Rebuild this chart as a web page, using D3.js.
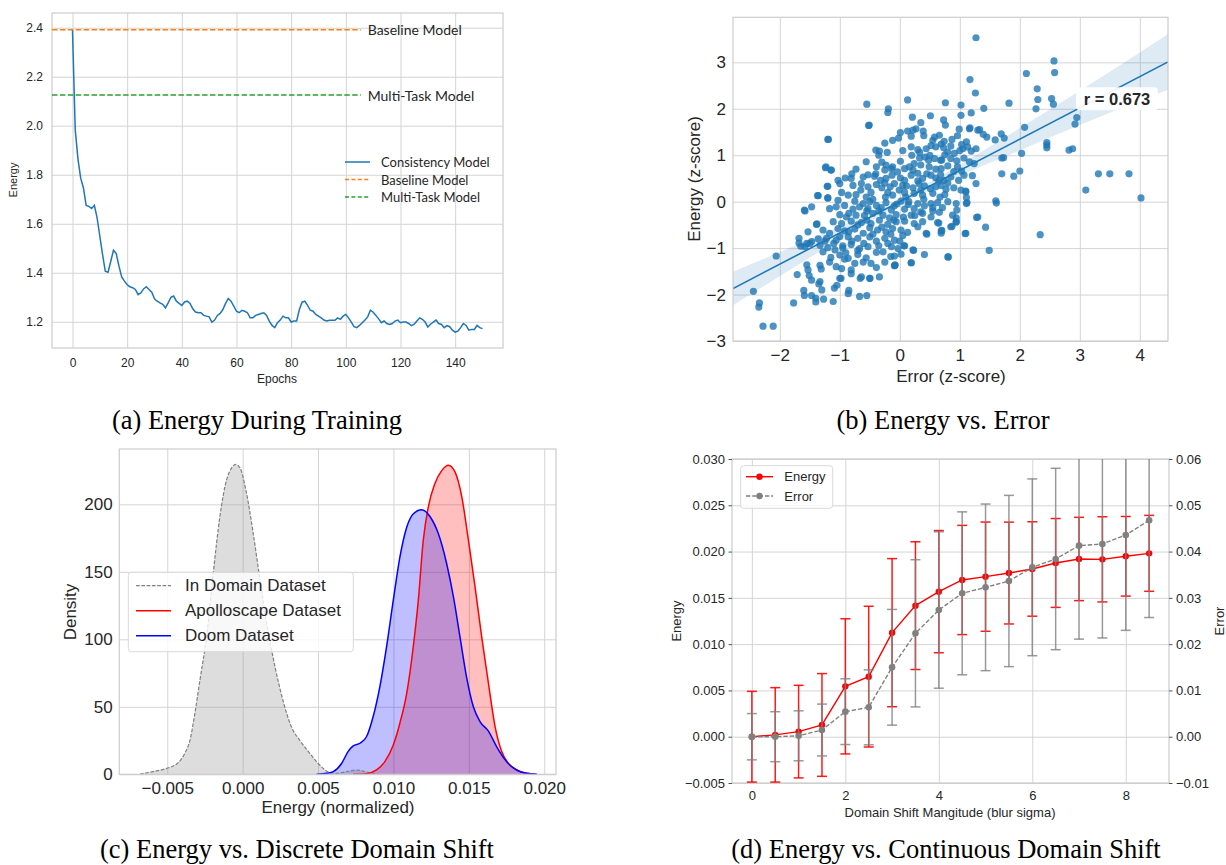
<!DOCTYPE html>
<html>
<head>
<meta charset="utf-8">
<script src="https://cdn.jsdelivr.net/npm/d3@7"></script>
<style>
  body { margin: 0; background: #fff; }
  svg { display: block; }
</style>
</head>
<body>
<script>
// ---------- (a) energy during training ----------
var consistencyEnergy = [2.39,1.983,1.864,1.786,1.746,1.675,1.671,1.662,1.675,1.624,1.549,1.474,1.406,1.402,1.447,1.492,1.478,1.427,1.383,1.366,
  1.351,1.343,1.339,1.332,1.311,1.318,1.334,1.343,1.332,1.321,1.294,1.284,1.277,1.271,1.257,1.277,1.300,1.305,1.284,1.275,
  1.267,1.281,1.284,1.275,1.253,1.240,1.237,1.237,1.226,1.223,1.220,1.199,1.207,1.226,1.234,1.250,1.275,1.295,1.284,1.264,
  1.243,1.237,1.247,1.243,1.237,1.216,1.216,1.226,1.230,1.234,1.237,1.226,1.203,1.185,1.176,1.196,1.207,1.223,1.216,1.216,
  1.199,1.203,1.203,1.250,1.280,1.284,1.267,1.247,1.243,1.230,1.223,1.216,1.207,1.203,1.206,1.206,1.206,1.216,1.210,1.223,
  1.230,1.216,1.199,1.180,1.176,1.185,1.196,1.207,1.220,1.247,1.239,1.226,1.212,1.196,1.203,1.193,1.189,1.193,1.203,1.207,
  1.196,1.199,1.199,1.193,1.184,1.190,1.203,1.216,1.210,1.199,1.179,1.190,1.199,1.207,1.193,1.189,1.176,1.184,1.180,1.166,
  1.158,1.162,1.176,1.193,1.185,1.166,1.169,1.169,1.185,1.176,1.172];
var refModels = ['Baseline Model', 'Multi-Task Model'];
var refEnergy = [2.392, 2.125];
var refColors = ['#ff7f0e', '#2ca02c'];
var epochTicks = [0, 20, 40, 60, 80, 100, 120, 140];
var energyTicksA = [1.2, 1.4, 1.6, 1.8, 2.0, 2.2, 2.4];

// ---------- (b) energy vs error (z-scores) ----------
var scatterPoints = [
  [1.27,3.53],[2.57,3.03],[2.58,2.78],[2.11,2.76],[1.17,2.63],[1.26,2.34],[2.29,2.43],[2.30,2.20],[2.27,2.00],[2.53,2.22],
  [2.56,2.10],[2.95,1.81],[2.92,1.67],[2.82,1.11],[2.88,1.14],[2.45,1.27],[2.45,1.22],[2.45,1.16],[3.31,0.60],[3.50,0.60],
  [3.82,0.60],[3.10,0.25],[4.02,0.08],[2.34,-0.71],[2.08,1.60],[2.03,1.04],[2.00,0.66],[1.90,0.55],[1.82,2.12],[1.40,2.01],
  [1.02,2.08],[0.76,2.13],[0.13,2.19],[-0.55,2.10],[-0.19,2.00],[-0.20,1.92],[-0.51,1.65],[-1.19,1.34],[-1.23,0.75],[-1.15,0.68],
  [-1.20,0.33],[-1.37,0.13],[-1.20,0.08],[-1.59,-0.18],[-1.38,-0.48],[-1.68,-0.79],[-1.68,-0.89],[-1.65,-0.96],[-1.55,-0.90],[-2.06,-1.17],
  [-1.71,-1.57],[-1.55,-1.36],[-1.51,-1.59],[-1.60,-1.91],[-1.59,-2.02],[-1.47,-2.02],[-1.40,-2.08],[-1.40,-2.16],[-1.27,-2.10],[-1.35,-1.77],
  [-1.30,-1.90],[-1.11,-2.15],[-1.09,-1.86],[-1.05,-1.80],[-0.98,-1.65],[-0.85,-1.91],[-0.86,-1.98],[-0.67,-2.04],[-0.55,-2.02],[-0.50,-1.65],
  [-0.66,-1.65],[-2.44,-1.93],[-2.34,-2.18],[-2.35,-2.27],[-2.28,-2.68],[-2.11,-2.68],[-1.77,-2.18],[-0.08,-1.37],[0.19,-1.32],[0.41,-1.14],
  [0.81,-1.19],[1.09,-0.69],[1.49,-1.05],[1.43,-0.55],[1.30,-0.33],[1.60,0.02],[1.61,-0.03],[1.70,0.60],[1.70,0.94],[1.73,0.95],
  [1.69,1.46],[1.74,1.37],[1.59,1.33],[1.45,1.39],[1.39,1.45],[1.33,1.55],[1.17,1.59],[1.19,1.91],[0.94,-0.35],[0.94,-0.44],
  [1.10,0.23],[1.11,0.09],[1.11,-0.04],[0.87,-0.53],[0.69,-0.68],[0.70,-0.62],[0.65,-0.46],[0.45,-0.70],[0.23,-1.05],[0.07,-0.95],
  [0.02,-1.13],[-0.15,-1.18],[-0.08,-1.36],
  [-0.52,1.64],[0.21,1.82],[0.35,1.70],[0.51,1.85],[0.73,1.76],[0.76,1.65],[1.02,1.86],[0.01,1.49],[0.13,1.52],[0.22,1.54],
  [0.19,1.41],[0.27,1.57],[0.39,1.52],[0.40,1.42],[-1.20,1.34],[-0.25,1.26],[-0.12,1.32],[-0.02,1.37],[0.58,1.39],[0.55,1.32],
  [0.66,1.43],[0.74,1.30],[0.87,1.34],[0.96,1.42],[0.99,1.56],[1.16,1.57],[1.30,1.54],[1.11,1.29],[1.03,1.23],[-0.40,1.11],
  [-0.34,1.09],[-0.21,1.06],[0.19,1.18],[0.30,1.12],[0.33,1.06],[0.44,1.14],[0.52,1.21],[0.60,1.18],[0.69,1.24],[0.73,1.16],
  [0.80,1.07],[0.91,1.04],[1.05,1.14],[1.13,1.18],[1.19,1.09],[1.27,1.14],[-0.35,1.00],[-0.56,0.86],[-0.23,0.79],[-0.14,0.71],
  [0.01,0.87],[0.08,0.71],[0.24,0.82],[0.33,0.94],[0.42,0.96],[0.48,0.89],[0.58,0.93],[0.68,0.89],[0.75,1.01],[0.85,0.93],
  [0.95,0.88],[1.07,0.94],[1.16,0.86],[1.24,0.82],[-1.24,0.73],[-1.14,0.68],[-0.73,0.70],[-0.39,0.75],[-0.25,0.68],[-0.12,0.75],
  [0.16,0.75],[0.22,0.68],[0.35,0.79],[0.49,0.75],[0.69,0.71],[0.80,0.77],[0.96,0.75],[1.03,0.66],[-0.91,0.51],[-0.81,0.50],
  [-0.61,0.53],[-0.53,0.58],[-0.42,0.55],[-0.32,0.46],[-0.23,0.50],[-0.13,0.57],[-0.04,0.64],[0.01,0.51],[0.08,0.46],[0.19,0.57],
  [0.30,0.61],[0.38,0.50],[0.52,0.57],[0.60,0.51],[0.68,0.58],[0.74,0.46],[0.85,0.53],[0.98,0.46],[1.07,0.57],[1.21,0.56],
  [1.27,0.39],[-1.00,0.39],[-1.03,0.46],[-1.21,0.33],[-0.78,0.35],[-0.64,0.39],[-0.53,0.32],[-0.39,0.37],[-0.30,0.30],[-0.16,0.32],
  [-0.09,0.39],[-0.01,0.25],[0.11,0.34],[0.22,0.30],[0.32,0.39],[0.41,0.34],[0.51,0.28],[0.60,0.32],[0.69,0.35],[0.77,0.27],
  [0.90,0.30],[1.02,0.25],[-1.36,0.13],[-1.20,0.08],[-0.97,0.20],[-0.86,0.14],[-0.73,0.15],[-0.56,0.10],[-0.48,0.20],[-0.24,0.10],
  [-0.12,0.14],[0.08,0.20],[0.24,0.18],[0.38,0.14],[0.55,0.18],[0.67,0.10],[1.10,0.21],[-1.03,0.03],[-0.75,0.01],[-0.61,-0.04],
  [-0.50,0.00],[-0.39,-0.08],[-0.23,-0.02],[-0.09,-0.09],[0.02,0.01],[0.14,-0.06],[0.30,-0.04],[0.41,-0.09],[0.52,-0.04],[0.63,-0.02],
  [0.80,0.00],[0.94,-0.04],[1.12,-0.02],[-1.47,-0.11],[-1.17,-0.15],[-1.06,-0.11],[-0.92,-0.08],[-0.78,-0.16],[-0.67,-0.11],[-0.53,-0.15],
  [-0.31,-0.13],[-0.14,-0.18],[0.08,-0.16],[0.24,-0.15],[0.35,-0.22],[0.55,-0.13],[0.71,-0.13],[0.95,-0.18],[-1.58,-0.20],[-1.00,-0.28],
  [-0.89,-0.33],[-0.73,-0.29],[-0.59,-0.30],[-0.45,-0.25],[-0.28,-0.29],[-0.17,-0.35],[-0.06,-0.28],[0.06,-0.33],[0.19,-0.29],[0.38,-0.25],
  [0.52,-0.33],[0.66,-0.23],[0.88,-0.29],[1.28,-0.34],[-1.39,-0.49],[-1.11,-0.43],[-0.97,-0.47],[-0.81,-0.42],[-0.64,-0.45],[-0.48,-0.47],
  [-0.34,-0.40],[-0.20,-0.49],[-0.06,-0.43],[0.08,-0.42],[0.24,-0.47],[0.38,-0.43],[0.63,-0.45],[0.94,-0.43],[-1.53,-0.65],[-1.28,-0.61],
  [-1.17,-0.68],[-1.03,-0.58],[-0.92,-0.63],[-0.75,-0.59],[-0.61,-0.68],[-0.50,-0.56],[-0.37,-0.61],[-0.23,-0.65],[-0.12,-0.58],[0.02,-0.61],
  [0.13,-0.66],[0.30,-0.54],[0.44,-0.68],[0.69,-0.63],[0.85,-0.54],[1.10,-0.68],[-1.47,-0.86],[-1.36,-0.80],[-1.22,-0.79],[-1.06,-0.83],
  [-0.86,-0.76],[-0.70,-0.79],[-0.50,-0.76],[-0.39,-0.85],[-0.25,-0.79],[-0.09,-0.83],[0.05,-0.73],[-1.58,-0.97],[-1.50,-0.90],[-1.33,-0.94],
  [-1.20,-0.99],[-1.08,-1.04],[-0.95,-0.95],[-0.81,-0.92],[-0.67,-1.01],[-0.53,-0.97],[-0.39,-1.09],[-0.28,-1.08],[-0.14,-0.97],[-0.03,-1.01],
  [0.08,-0.95],[0.22,-1.04],[-1.28,-1.08],[-1.00,-1.15],[-0.86,-1.22],[-0.70,-1.14],[-0.56,-1.21],[-0.09,-1.17],[0.80,-1.19],[-1.33,-1.37],
  [-1.17,-1.30],[-1.06,-1.40],[-0.92,-1.24],[-0.75,-1.33],[-0.61,-1.30],[-0.48,-1.33],[-0.39,-1.42],[-0.25,-1.30],[-0.09,-1.38],[0.19,-1.31],
  [-1.53,-1.47],[-1.31,-1.45],[-0.97,-1.44],[-0.81,-1.47],[-0.64,-1.62],[-0.50,-1.65],[-0.34,-1.62],[-1.47,-1.69],[-1.33,-1.72],[-1.00,-1.65],
  [-0.81,-1.55],
  [-0.45,0.05],[-0.35,-0.20],[-0.20,0.20],[-0.05,-0.05],[0.10,0.10],[0.30,0.45],[0.45,0.60],[0.60,0.70],[0.70,0.90],[0.50,1.00],
  [0.35,0.25],[0.15,0.00],[-0.10,-0.40],[-0.30,-0.55],[-0.55,-0.40],[-0.70,-0.50],[-0.85,-0.65],[-1.00,-0.75],[-0.80,-0.85],[-0.60,-0.90],
  [-0.45,-0.70],[-0.20,-0.90],[0.00,-0.85],[-0.95,-1.00],[-1.10,-0.90],[-1.25,-0.85],[-0.65,0.25],[-0.80,0.60],[-0.40,0.60],[-0.30,0.85],
  [0.20,1.00],[0.05,1.10],[0.65,0.45],[0.90,0.65],[0.80,0.40],[0.55,-0.20],[0.25,-0.30],[-0.15,-0.70],[-0.35,-0.95],[-0.70,-1.05],
  [-0.90,-1.10],[-1.15,-1.20],[0.40,0.05],[0.75,0.15],[-0.55,-0.20],[-0.85,-0.25],[-0.25,0.40],[0.05,0.35],[1.00,1.10],[0.85,1.20]
];
var regSlope = 0.673, regIntercept = 0.0, corrLabel = 'r = 0.673';
var ciX = [-2.78, -2, -1, 0, 1, 2, 3, 4, 4.47];
var ciHalfWidth = [0.36, 0.26, 0.14, 0.06, 0.12, 0.24, 0.37, 0.52, 0.60];
var zTicksX = [-2, -1, 0, 1, 2, 3, 4];
var zTicksY = [-3, -2, -1, 0, 1, 2, 3];

// ---------- (c) discrete domain shift (KDE) ----------
var inDomainX = [-0.00681,-0.00593,-0.00504,-0.00427,-0.00383,-0.0035,-0.00317,-0.00283,-0.00239,-0.00195,-0.00151,-0.00107,-0.00073,-0.00047,
  -0.00018,0.00026,0.0007,0.00115,0.00159,0.00214,0.00269,0.00324,0.0038,0.00435,0.0049,0.00534,0.00579,0.00623,0.00689,0.00756,0.00822,0.00877,0.0091];
var inDomainDensity = [0.2,2,4.4,8.6,15.6,25,45,70,102,149,191,218,227,229.6,227,208,178.5,144,112,80,54,35,25,17,9.4,4.4,1.2,0.7,2,3.2,1.7,0.2,0];
var apolloX = [0.00733,0.00822,0.00888,0.00943,0.00999,0.01043,0.01088,0.01132,0.01165,0.01198,0.01231,0.01275,0.0132,0.01364,0.01408,
  0.01453,0.01497,0.01541,0.01585,0.0163,0.01674,0.01718,0.01762,0.01817,0.01883,0.0195];
var apolloDensity = [0,0.5,3.2,9.4,21.7,38,60,95,129,173.6,198,215.5,225,229,224,205.7,173.6,139,102,67.4,35.3,16.8,8.1,3.2,0.7,0];
var doomX = [0.0049,0.00557,0.00601,0.00656,0.0070,0.00733,0.00778,0.00822,0.00866,0.0091,0.00955,0.00999,0.01043,0.01088,0.01132,0.01187,
  0.01242,0.01297,0.01353,0.01397,0.01441,0.01485,0.0153,0.01574,0.0163,0.01684,0.0175,0.01817,0.01883,0.0195];
var doomDensity = [0,0.7,2,8,17,21,23,28,43,65,95,129,161,183,193,196,191,178.5,156,132,102,72,50,39,32,20.5,9.4,3.2,0.7,0];
var energyTicksC = [-0.005, 0.000, 0.005, 0.010, 0.015, 0.020];
var densityTicks = [0, 50, 100, 150, 200];

// ---------- (d) continuous domain shift ----------
var blurSigma = [0,0.5,1,1.5,2,2.5,3,3.5,4,4.5,5,5.5,6,6.5,7,7.5,8,8.5];
var energyMean = [0,0.0002,0.00055,0.00127,0.00544,0.00649,0.01124,0.01416,0.01567,0.01693,0.01729,0.01768,0.01812,0.01877,0.0192,0.01916,0.01949,0.01981];
var energyStd = [0.0049,0.0051,0.0050,0.00555,0.0073,0.0076,0.0080,0.0069,0.0066,0.0059,0.0059,0.0055,0.0051,0.0048,0.0045,0.0046,0.0043,0.0041];
var errorMean = [0,0,0.0002,0.00145,0.00541,0.00635,0.015,0.02234,0.02738,0.03098,0.03227,0.03364,0.0366,0.0384,0.04128,0.04164,0.04358,0.04675];
var errorStd = [0.005,0.0054,0.0054,0.0056,0.0071,0.0081,0.0125,0.0159,0.0169,0.0176,0.018,0.0185,0.0191,0.0196,0.0202,0.0203,0.0206,0.021];
var sigmaTicks = [0, 2, 4, 6, 8];
var energyTicksD = [-0.005, 0, 0.005, 0.010, 0.015, 0.020, 0.025, 0.030];
var errorTicksD = [-0.01, 0, 0.01, 0.02, 0.03, 0.04, 0.05, 0.06];

var captions = ['(a) Energy During Training', '(b) Energy vs. Error',
                '(c) Energy vs. Discrete Domain Shift', '(d) Energy vs. Continuous Domain Shift'];

// ---------------------------------------------------------------------
var sans = '"Liberation Sans", Arial, Helvetica, sans-serif';
var textColor = '#262626',
    gridColor = '#d4d4d4',
    spineColor = '#cccccc';

var svg = d3.select('body').append('svg')
    .attr('width', 1226)
    .attr('height', 865);

// grid + tick labels through d3 axes, seaborn whitegrid look
function frame(g, box, x, y, o) {
  var xa = g.append('g')
      .attr('transform', 'translate(0,' + box.B + ')')
      .call(d3.axisBottom(x).tickValues(o.xTicks).tickFormat(o.xFmt)
            .tickSize(-(box.B - box.T)).tickPadding(o.padX));
  var ya = g.append('g')
      .attr('transform', 'translate(' + box.L + ',0)')
      .call(d3.axisLeft(y).tickValues(o.yTicks).tickFormat(o.noYText ? '' : o.yFmt)
            .tickSize(-(box.R - box.L)).tickPadding(o.padY));
  [xa, ya].forEach(function(a) {
    a.select('.domain').remove();
    a.selectAll('line').attr('stroke', gridColor).attr('stroke-width', 1);
    a.selectAll('text')
        .attr('fill', textColor)
        .attr('font-family', o.font || sans)
        .attr('font-size', o.fs);
  });
}

function spines(g, box) {
  g.append('rect')
      .attr('x', box.L).attr('y', box.T)
      .attr('width', box.R - box.L).attr('height', box.B - box.T)
      .attr('fill', 'none')
      .attr('stroke', spineColor)
      .attr('stroke-width', 1.2);
}

function label(g, txt, x, y, fs, rot) {
  return g.append('text')
      .attr('transform', 'translate(' + x + ',' + y + ')' + (rot ? ' rotate(' + rot + ')' : ''))
      .attr('text-anchor', 'middle')
      .attr('dominant-baseline', 'central')
      .attr('font-family', sans)
      .attr('font-size', fs)
      .attr('fill', textColor)
      .text(txt);
}

function clip(id, box) {
  svg.append('clipPath').attr('id', id).append('rect')
      .attr('x', box.L).attr('y', box.T)
      .attr('width', box.R - box.L).attr('height', box.B - box.T);
  return 'url(#' + id + ')';
}

// ============================ (a) ============================
(function() {
  var box = {L: 52, R: 503, T: 13, B: 348};
  var g = svg.append('g');
  var x = d3.scaleLinear().domain([-7.5, 157.5]).range([box.L, box.R]);
  var y = d3.scaleLinear().domain([1.093, 2.46]).range([box.B, box.T]);

  frame(g, box, x, y, {xTicks: epochTicks, yTicks: energyTicksA, xFmt: d3.format('d'),
                       yFmt: d3.format('.1f'), fs: 12, padX: 10, padY: 9});
  spines(g, box);

  var lineEnd = 105.5;
  refEnergy.forEach(function(v, i) {
    g.append('line')
        .attr('x1', box.L).attr('x2', x(lineEnd))
        .attr('y1', y(v)).attr('y2', y(v))
        .attr('stroke', refColors[i]).attr('stroke-width', 1.5)
        .attr('stroke-dasharray', '5.5,2.4');
    g.append('text')
        .attr('x', x(lineEnd + 2.5)).attr('y', y(v))
        .attr('dominant-baseline', 'central')
        .attr('font-family', 'Lato, "Noto Sans", sans-serif')
        .attr('font-size', 14)
        .attr('fill', textColor)
        .text(refModels[i]);
  });

  var line = d3.line().x(function(d, i) { return x(i); }).y(function(d) { return y(d); });
  g.append('path')
      .datum(consistencyEnergy)
      .attr('d', line)
      .attr('fill', 'none')
      .attr('stroke', '#1f77b4')
      .attr('stroke-width', 1.5);

  // legend
  var items = [['Consistency Model', '#1f77b4', null],
               ['Baseline Model', refColors[0], '4,2.4'],
               ['Multi-Task Model', refColors[1], '4,2.4']];
  var lg = g.append('g').attr('transform', 'translate(345,162)');
  items.forEach(function(it, i) {
    var row = lg.append('g').attr('transform', 'translate(0,' + (i * 17.5) + ')');
    row.append('line').attr('x1', 0).attr('x2', 25).attr('y1', 0).attr('y2', 0)
        .attr('stroke', it[1]).attr('stroke-width', 1.5)
        .attr('stroke-dasharray', it[2]);
    row.append('text').attr('x', 36).attr('y', 0)
        .attr('dominant-baseline', 'central')
        .attr('font-family', 'Lato, "Noto Sans", sans-serif')
        .attr('font-size', 13).attr('fill', textColor)
        .text(it[0]);
  });

  label(g, 'Energy', 13, 180, 11, -90);
  label(g, 'Epochs', 277, 379, 12);
})();

// ============================ (b) ============================
(function() {
  var box = {L: 733, R: 1168, T: 17.3, B: 341};
  var g = svg.append('g');
  var x = d3.scaleLinear().domain([-2.78, 4.47]).range([box.L, box.R]);
  var y = d3.scaleLinear().domain([-3, 3.97]).range([box.B, box.T]);

  frame(g, box, x, y, {xTicks: zTicksX, yTicks: zTicksY, xFmt: d3.format('d'),
                       yFmt: d3.format('d'), fs: 17, padX: 8, padY: 7});

  var plot = g.append('g').attr('clip-path', clip('clipB', box));

  plot.append('g').selectAll('circle')
      .data(scatterPoints)
      .join('circle')
      .attr('cx', function(d) { return x(d[0]); })
      .attr('cy', function(d) { return y(d[1]); })
      .attr('r', 3.6)
      .attr('fill', '#1f77b4')
      .attr('fill-opacity', 0.8);

  var band = d3.area()
      .x(function(d, i) { return x(ciX[i]); })
      .y0(function(d, i) { return y(regIntercept + regSlope * ciX[i] - ciHalfWidth[i]); })
      .y1(function(d, i) { return y(regIntercept + regSlope * ciX[i] + ciHalfWidth[i]); })
      .curve(d3.curveMonotoneX);
  plot.append('path')
      .datum(ciX)
      .attr('d', band)
      .attr('fill', '#1f77b4')
      .attr('fill-opacity', 0.15);

  var xd = x.domain();
  plot.append('line')
      .attr('x1', x(xd[0])).attr('x2', x(xd[1]))
      .attr('y1', y(regIntercept + regSlope * xd[0]))
      .attr('y2', y(regIntercept + regSlope * xd[1]))
      .attr('stroke', '#1f77b4')
      .attr('stroke-width', 1.6);

  spines(g, box);

  g.append('rect')
      .attr('x', 1076).attr('y', 87.3).attr('width', 82).attr('height', 23)
      .attr('rx', 4).attr('fill', '#fff').attr('fill-opacity', 0.92);
  g.append('text')
      .attr('x', 1117).attr('y', 99)
      .attr('text-anchor', 'middle').attr('dominant-baseline', 'central')
      .attr('font-family', sans).attr('font-weight', 'bold')
      .attr('font-size', 16.5).attr('fill', textColor)
      .text(corrLabel);

  label(g, 'Energy (z-score)', 694, 179, 17, -90);
  label(g, 'Error (z-score)', 951, 376, 17);
})();

// ============================ (c) ============================
(function() {
  var box = {L: 119.3, R: 556, T: 449, B: 774.3};
  var g = svg.append('g');
  var x = d3.scaleLinear().domain([-0.00818, 0.02078]).range([box.L, box.R]);
  var y = d3.scaleLinear().domain([0, 241]).range([box.B, box.T]);

  frame(g, box, x, y, {xTicks: energyTicksC, yTicks: densityTicks, xFmt: d3.format('.3f'),
                       yFmt: d3.format('d'), fs: 17, padX: 8, padY: 6.6});

  var sets = [
    {xs: inDomainX, ds: inDomainDensity, color: '#808080', fill: '#9e9e9e', dash: '3.7,1.6'},
    {xs: apolloX, ds: apolloDensity, color: '#ff0000', fill: '#ff0000', dash: null},
    {xs: doomX, ds: doomDensity, color: '#0000ff', fill: '#0000ff', dash: null}
  ];

  sets.forEach(function(s) {
    var area = d3.area()
        .x(function(d, i) { return x(s.xs[i]); })
        .y0(y(0))
        .y1(function(d) { return y(d); })
        .curve(d3.curveMonotoneX);
    g.append('path').datum(s.ds).attr('d', area)
        .attr('fill', s.fill).attr('fill-opacity', s.color === '#808080' ? 0.35 : 0.25);
  });
  sets.forEach(function(s) {
    var line = d3.line()
        .x(function(d, i) { return x(s.xs[i]); })
        .y(function(d) { return y(d); })
        .curve(d3.curveMonotoneX);
    g.append('path').datum(s.ds).attr('d', line)
        .attr('fill', 'none').attr('stroke', s.color)
        .attr('stroke-width', s.dash ? 1.2 : 1.5)
        .attr('stroke-dasharray', s.dash);
  });

  spines(g, box);

  // legend
  var lg = g.append('g');
  lg.append('rect')
      .attr('x', 128.3).attr('y', 572.3).attr('width', 225).attr('height', 79.4)
      .attr('rx', 3).attr('fill', '#fff').attr('fill-opacity', 0.8)
      .attr('stroke', '#d9d9d9');
  var names = ['In Domain Dataset', 'Apolloscape Dataset', 'Doom Dataset'];
  sets.forEach(function(s, i) {
    var yy = 585.7 + i * 25;
    lg.append('line').attr('x1', 136).attr('x2', 171).attr('y1', yy).attr('y2', yy)
        .attr('stroke', s.color).attr('stroke-width', s.dash ? 1.2 : 1.5)
        .attr('stroke-dasharray', s.dash);
    lg.append('text').attr('x', 185).attr('y', yy)
        .attr('dominant-baseline', 'central')
        .attr('font-family', sans).attr('font-size', 17).attr('fill', textColor)
        .text(names[i]);
  });

  label(g, 'Density', 70, 612, 17, -90);
  label(g, 'Energy (normalized)', 338, 807, 17);
})();

// ============================ (d) ============================
(function() {
  var box = {L: 732, R: 1169, T: 459, B: 783};
  var g = svg.append('g');
  var x = d3.scaleLinear().domain([-0.425, 8.925]).range([box.L, box.R]);
  var y = d3.scaleLinear().domain([-0.005, 0.030]).range([box.B, box.T]);
  var y2 = d3.scaleLinear().domain([-0.01, 0.06]).range([box.B, box.T]);

  frame(g, box, x, y, {xTicks: sigmaTicks, yTicks: energyTicksD, xFmt: d3.format('d'),
                       yFmt: d3.format('.3f'), fs: 13, padX: 8, padY: 7, noYText: true});
  spines(g, box);

  function sideAxis(axis, tx) {
    var a = g.append('g').attr('transform', 'translate(' + tx + ',0)').call(axis);
    a.select('.domain').remove();
    a.selectAll('line').attr('stroke', '#555').attr('stroke-width', 1);
    a.selectAll('text').attr('fill', textColor).attr('font-family', sans).attr('font-size', 13);
  }
  sideAxis(d3.axisLeft(y).tickValues(energyTicksD).tickFormat(d3.format('.3f')).tickSize(3.5).tickPadding(3.5), box.L);
  sideAxis(d3.axisRight(y2).tickValues(errorTicksD).tickFormat(d3.format('.2f')).tickSize(3.5).tickPadding(3.5), box.R);

  var plot = g.append('g').attr('clip-path', clip('clipD', box));

  function series(scale, mean, std, color, opacity, dash, r) {
    var s = plot.append('g').attr('stroke-opacity', opacity);
    var bars = s.selectAll('g.bar').data(blurSigma).join('g').attr('class', 'bar');
    bars.append('line')
        .attr('x1', function(d) { return x(d); }).attr('x2', function(d) { return x(d); })
        .attr('y1', function(d, i) { return scale(mean[i] - std[i]); })
        .attr('y2', function(d, i) { return scale(mean[i] + std[i]); })
        .attr('stroke', color).attr('stroke-width', 1.5);
    [-1, 1].forEach(function(sg) {
      bars.append('line')
          .attr('x1', function(d) { return x(d) - 5; }).attr('x2', function(d) { return x(d) + 5; })
          .attr('y1', function(d, i) { return scale(mean[i] + sg * std[i]); })
          .attr('y2', function(d, i) { return scale(mean[i] + sg * std[i]); })
          .attr('stroke', color).attr('stroke-width', 1.5);
    });
    var line = d3.line().x(function(d) { return x(d); }).y(function(d, i) { return scale(mean[i]); });
    plot.append('path').datum(blurSigma).attr('d', line)
        .attr('fill', 'none').attr('stroke', color).attr('stroke-width', 1.4)
        .attr('stroke-dasharray', dash);
    plot.append('g').selectAll('circle').data(blurSigma).join('circle')
        .attr('cx', function(d) { return x(d); })
        .attr('cy', function(d, i) { return scale(mean[i]); })
        .attr('r', r).attr('fill', color);
  }
  series(y, energyMean, energyStd, '#ff0000', 0.9, null, 3.2);
  series(y2, errorMean, errorStd, '#808080', 0.8, '4.4,1.9', 3.3);

  // legend
  var lg = g.append('g');
  lg.append('rect')
      .attr('x', 740.7).attr('y', 465.7).attr('width', 92).attr('height', 42.6)
      .attr('rx', 3).attr('fill', '#fff').attr('fill-opacity', 0.8)
      .attr('stroke', '#d9d9d9');
  [['Energy', '#ff0000', null], ['Error', '#808080', '4.4,1.9']].forEach(function(it, i) {
    var yy = 476.7 + i * 19.3;
    lg.append('line').attr('x1', 746).attr('x2', 773).attr('y1', yy).attr('y2', yy)
        .attr('stroke', it[1]).attr('stroke-width', 1.4).attr('stroke-dasharray', it[2]);
    lg.append('circle').attr('cx', 759.5).attr('cy', yy).attr('r', 3.2).attr('fill', it[1]);
    lg.append('text').attr('x', 784.3).attr('y', yy)
        .attr('dominant-baseline', 'central')
        .attr('font-family', sans).attr('font-size', 13).attr('fill', textColor)
        .text(it[0]);
  });

  label(g, 'Energy', 676, 621, 13, -90);
  label(g, 'Error', 1219, 621, 13, -90);
  label(g, 'Domain Shift Mangitude (blur sigma)', 950, 812, 13);
})();

// ============================ captions ============================
var capX = [257, 943, 297, 946], capY = [429, 429, 858, 858];
svg.append('g').selectAll('text')
    .data(captions)
    .join('text')
    .attr('x', function(d, i) { return capX[i]; })
    .attr('y', function(d, i) { return capY[i]; })
    .attr('text-anchor', 'middle')
    .attr('font-family', '"Liberation Serif", "Times New Roman", serif')
    .attr('font-size', 26.5)
    .attr('fill', '#000')
    .text(function(d) { return d; });
</script>
</body>
</html>
